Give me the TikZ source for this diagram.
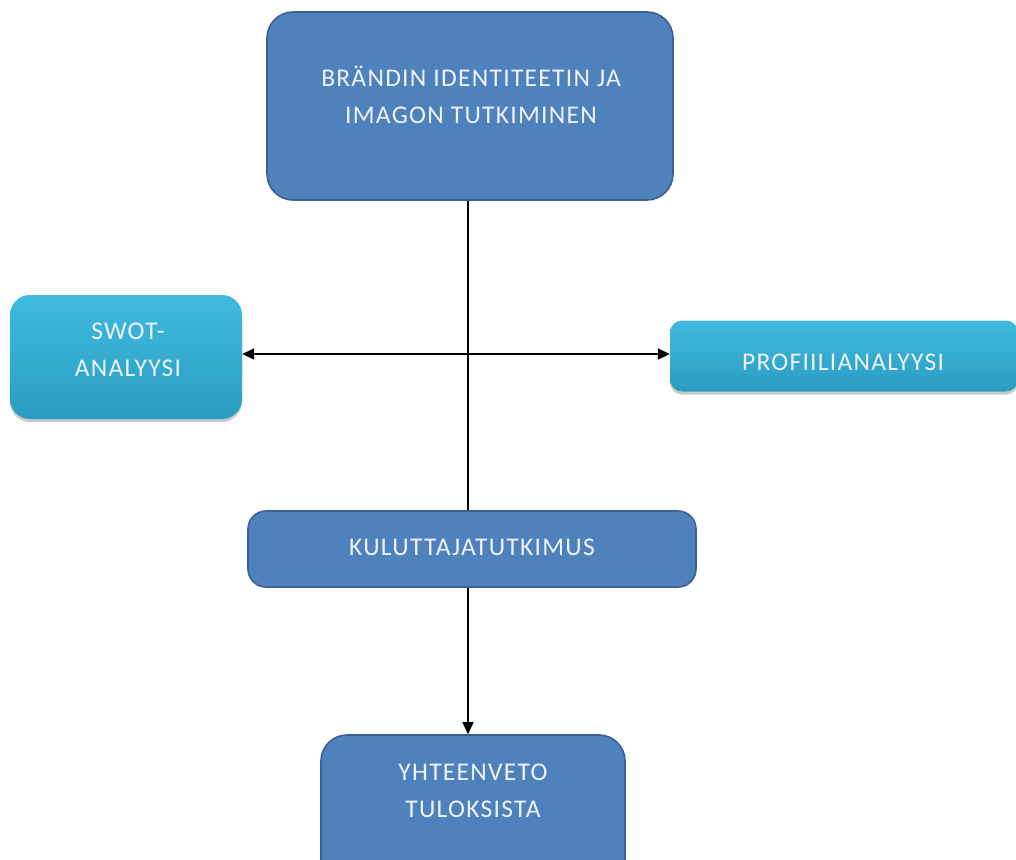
\documentclass[tikz,border=0pt]{standalone}
\usepackage{fontspec}
\setmainfont{Carlito}
\newfontfamily\boxfont[LetterSpace=5]{Carlito}
\usetikzlibrary{arrows.meta,shadows}
\definecolor{dblue}{HTML}{4F81BD}
\definecolor{dborder}{HTML}{3A6096}
\definecolor{cyantop}{HTML}{40BAE0}
\definecolor{cyanbot}{HTML}{2A9CC0}
\definecolor{txt}{HTML}{EEF4FF}
\tikzset{
  bluebox/.style={draw=dborder, line width=1.6pt, fill=dblue, rounded corners=#1, inner sep=0pt},
  bluebox/.default=26pt,
  cyanbox/.style={draw=none, top color=cyantop, bottom color=cyanbot, rounded corners=#1, inner sep=0pt,
    drop shadow={shadow xshift=0pt, shadow yshift=-3pt, opacity=0.35, fill=black!60}},
  cyanbox/.default=20pt,
  lbl/.style={text=txt, font=\boxfont\fontsize{25.5}{37}\selectfont, align=center, inner sep=0pt},
  conn/.style={line width=1.5pt, draw=black},
  tip/.style={-{Triangle[length=12pt,width=11pt]}}
}
\begin{document}
\begin{tikzpicture}[x=1pt,y=-1pt]
\useasboundingbox (0,0) rectangle (1016,859);
% boxes
\node[bluebox, minimum width=406pt, minimum height=188pt] (top) at (470,106) {};
\node[cyanbox, minimum width=232pt, minimum height=124pt] (swot) at (126,357) {};
\node[cyanbox=12pt, minimum width=348pt, minimum height=71pt] (prof) at (844,356) {};
\node[bluebox=18pt, minimum width=448pt, minimum height=76pt] (kul) at (472,549) {};
\node[bluebox, minimum width=304pt, minimum height=160pt] (yht) at (473,815) {};
% texts
\node[lbl] (toptxt) at (471,95) {BRÄNDIN IDENTITEETIN JA\\IMAGON TUTKIMINEN};
\node[lbl] (swottxt) at (128,350) {SWOT-\\ANALYYSI};
\node[lbl] (proftxt) at (843,362) {PROFIILIANALYYSI};
\node[lbl] (kultxt) at (472,547) {KULUTTAJATUTKIMUS};
\node[lbl] (yhttxt) at (473,791) {YHTEENVETO\\TULOKSISTA};
% connectors
\coordinate (mid) at (468,354);
\draw[conn] (top.south -| mid) -- (kul.north -| mid);
\draw[conn, tip] (mid) -- (swot.east |- mid);
\draw[conn, tip] (mid) -- (prof.west |- mid);
\draw[conn, tip] (kul.south -| mid) -- (yht.north -| mid);
\end{tikzpicture}
\end{document}
